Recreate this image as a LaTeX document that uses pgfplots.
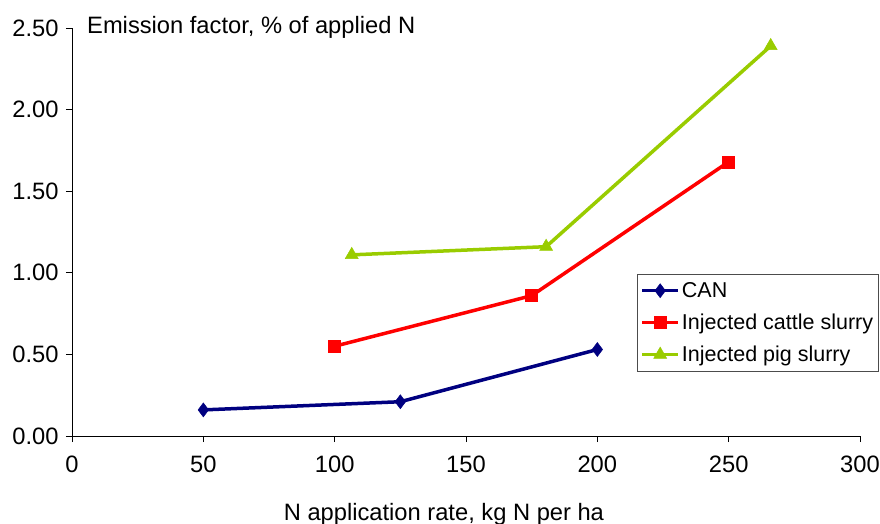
\documentclass[border=0pt]{standalone}
\usepackage{fontspec}
\setmainfont{Liberation Sans}
\usepackage{pgfplots}
\pgfplotsset{compat=1.18}

\definecolor{cannavy}{RGB}{0,0,128}
\definecolor{cattlered}{RGB}{255,0,0}
\definecolor{piggreen}{RGB}{153,204,0}

\newcommand{\bigfont}{\fontsize{23.7}{28}\selectfont}
\newcommand{\legfont}{\fontsize{21.5}{26}\selectfont}

\begin{document}
\begin{tikzpicture}
\begin{axis}[
  scale only axis,
  clip=false,
  width=788pt, height=408pt,
  xmin=0, xmax=300, ymin=0, ymax=2.5,
  xtick={0,50,...,300},
  ytick={0,0.5,1,1.5,2,2.5},
  axis x line*=bottom, axis y line*=left,
  axis line style={black, line width=0.9pt},
  tick style={black, line width=0.9pt},
  tick align=outside,
  major tick length=6pt,
  /pgf/number format/assume math mode=true,
  tick label style={font=\bigfont},
  yticklabel style={/pgf/number format/fixed, /pgf/number format/fixed zerofill,
    /pgf/number format/precision=2, xshift=-4pt},
  xticklabel style={yshift=-10pt},
  xlabel={N application rate, kg N per ha},
  xlabel style={font=\bigfont, at={(axis description cs:0.472,0)}, anchor=center, yshift=-78pt},
  legend style={at={(rel axis cs:0.717,0.397)}, anchor=north west,
    draw=black!70, line width=0.9pt, font=\legfont,
    inner xsep=3pt, inner ysep=6pt, row sep=11pt},
  legend cell align=left,
  legend image code/.code={%
    \draw[mark repeat=2, mark phase=2] plot coordinates {(0pt,0pt) (18pt,0pt) (36pt,0pt)};},
  every axis plot/.append style={line width=3.5pt},
]
\addplot[color=cannavy, mark=diamond*, mark size=7pt, mark options={solid, line width=0.5pt}]
  coordinates {(50,0.16) (125,0.21) (200,0.53)};
\addlegendentry{CAN}
\addplot[color=cattlered, mark=square*, mark size=6pt, mark options={solid, line width=0.5pt}]
  coordinates {(100,0.55) (175,0.86) (250,1.68)};
\addlegendentry{Injected cattle slurry}
\addplot[color=piggreen, mark=triangle*, mark size=7.5pt, mark options={solid, line width=0.5pt}]
  coordinates {(106.5,1.11) (180.5,1.16) (266,2.39)};
\addlegendentry{Injected pig slurry}

\coordinate (bl) at (rel axis cs:0,0);
\coordinate (tr) at (rel axis cs:1,1);
\node[anchor=base west, inner sep=0pt, font=\bigfont] at ([xshift=15pt, yshift=-5.5pt]rel axis cs:0,1)
  {Emission factor, \% of applied N};
\end{axis}
\pgfresetboundingbox
\path[use as bounding box] ([xshift=-72pt, yshift=-88pt]bl) rectangle ([xshift=20pt, yshift=28pt]tr);
\end{tikzpicture}
\end{document}
